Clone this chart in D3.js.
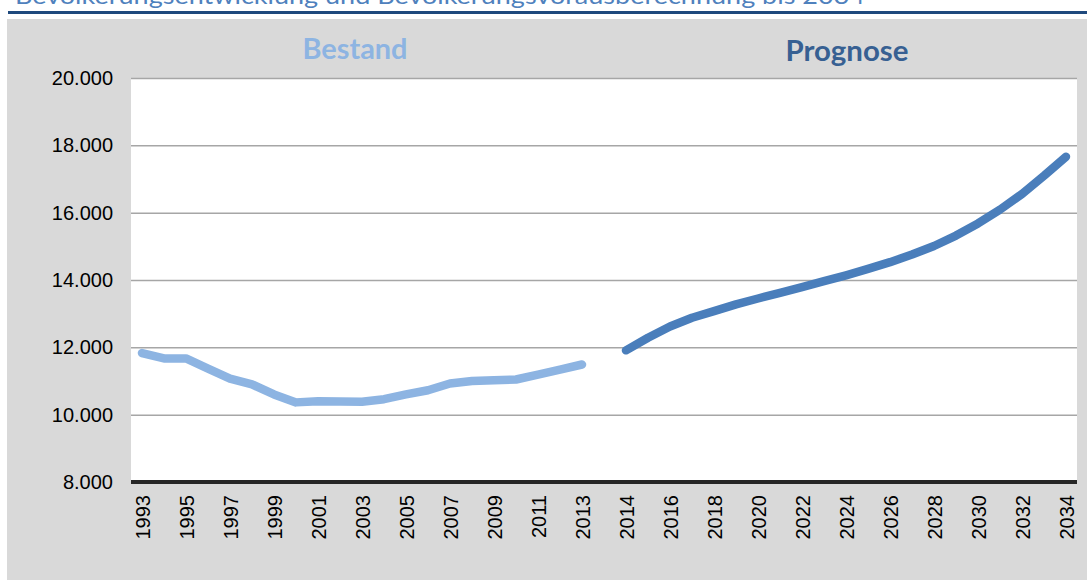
<!DOCTYPE html>
<html>
    <head>
        <meta charset="utf-8">
        <title>Bevölkerungsentwicklung</title>
        <style>
            html {font-family: "Liberation Sans", Arial, sans-serif;}
            body {margin: 0px; padding: 0px; overflow: hidden; background: #fff;}
            svg {display: block;}
        </style>
    </head>
    <body>
        <div id="chart"></div>
        <script src="https://cdn.jsdelivr.net/npm/d3@7"></script>
        <script type="text/javascript">
            // Bestand 1993-2013, Prognose 2014-2034 (one empty slot in between on the axis)
            var yearsBestand = d3.range(1993, 2014);
            var yearsPrognose = d3.range(2014, 2035);

            var bestand = [11830, 11670, 11670, 11370, 11070, 10900, 10600, 10365, 10400, 10390,
                           10385, 10460, 10600, 10725, 10925, 11000, 11020, 11045, 11190, 11340, 11490];
            var prognose = [11910, 12285, 12620, 12880, 13075, 13275, 13450, 13620, 13790, 13965,
                            14140, 14330, 14530, 14755, 15010, 15320, 15680, 16090, 16555, 17095, 17660];

            var yTicks = [8000, 10000, 12000, 14000, 16000, 18000, 20000];
            var xLabels = ["1993", "1995", "1997", "1999", "2001", "2003", "2005", "2007", "2009", "2011", "2013",
                           "2014", "2016", "2018", "2020", "2022", "2024", "2026", "2028", "2030", "2032", "2034"];

            var title = "Bevölkerungsentwicklung und Bevölkerungsvorausberechnung bis 2034";

            var width = 1087, height = 583;
            var plot = {left: 131, right: 1077, top: 78, bottom: 482};

            // category slots: all Bestand years, a blank gap, then all Prognose years
            var slots = yearsBestand.map(String).concat(["gap"]).concat(yearsPrognose.map(String));

            var x = d3.scalePoint()
                .domain(slots)
                .range([plot.left, plot.right])
                .padding(0.5);

            var y = d3.scaleLinear()
                .domain([8000, 20000])
                .range([plot.bottom, plot.top]);

            var svg = d3.select("#chart").append("svg")
                .attr("width", width)
                .attr("height", height);

            // title, mostly cut off at the top like the source
            svg.append("text")
                .attr("x", 15)
                .attr("y", 4)
                .attr("textLength", 850)
                .attr("lengthAdjust", "spacingAndGlyphs")
                .style("font-family", "Lato, 'Open Sans', sans-serif")
                .style("font-size", "24px")
                .style("fill", "#4F81BD")
                .text(title);

            svg.append("rect")
                .attr("x", 8).attr("y", 11)
                .attr("width", width - 8).attr("height", 3)
                .style("fill", "#1F497D");

            // grey chart panel
            svg.append("rect")
                .attr("x", 7).attr("y", 19)
                .attr("width", width - 7).attr("height", 561)
                .style("fill", "#D9D9D9");

            svg.append("rect")
                .attr("x", plot.left).attr("y", plot.top)
                .attr("width", plot.right - plot.left).attr("height", plot.bottom - plot.top)
                .style("fill", "#fff");

            // gridlines + y labels
            var yAxis = d3.axisLeft(y)
                .tickValues(yTicks)
                .tickSize(-(plot.right - plot.left))
                .tickPadding(18)
                .tickFormat(function(d) { return d3.format(",")(d).replace(",", "."); });

            var gy = svg.append("g")
                .attr("transform", "translate(" + plot.left + ",0)")
                .call(yAxis);
            gy.select(".domain").remove();
            gy.selectAll(".tick line").style("stroke", "#A6A6A6").style("stroke-width", 1.5);
            gy.selectAll(".tick text")
                .style("font-family", "'Liberation Sans', Arial, sans-serif")
                .style("font-size", "20px")
                .style("fill", "#000");

            // x axis: label every other slot, rotated
            var xAxis = d3.axisBottom(x)
                .tickValues(xLabels)
                .tickSize(0)
                .tickPadding(0);

            var gx = svg.append("g")
                .attr("transform", "translate(0," + plot.bottom + ")")
                .call(xAxis);
            gx.select(".domain").remove();
            gx.selectAll(".tick text")
                .attr("transform", "rotate(-90)")
                .attr("x", -13)
                .attr("y", 0)
                .attr("dy", "0.36em")
                .style("text-anchor", "end")
                .style("font-family", "'Liberation Sans', Arial, sans-serif")
                .style("font-size", "20px")
                .style("fill", "#000");

            // thick base line at 8.000
            svg.append("line")
                .attr("x1", plot.left).attr("x2", plot.right)
                .attr("y1", y(8000)).attr("y2", y(8000))
                .style("stroke", "#262626")
                .style("stroke-width", 4);

            var line = d3.line()
                .x(function(d) { return x(String(d.year)); })
                .y(function(d) { return y(d.value); });

            var bestandData = yearsBestand.map(function(yr, i) { return {year: yr, value: bestand[i]}; });
            var prognoseData = yearsPrognose.map(function(yr, i) { return {year: yr, value: prognose[i]}; });

            svg.append("path")
                .datum(bestandData)
                .attr("d", line)
                .style("fill", "none")
                .style("stroke", "#8DB4E2")
                .style("stroke-width", 8.5)
                .style("stroke-linecap", "round")
                .style("stroke-linejoin", "round");

            svg.append("path")
                .datum(prognoseData)
                .attr("d", line)
                .style("fill", "none")
                .style("stroke", "#4A7EBB")
                .style("stroke-width", 8.5)
                .style("stroke-linecap", "round")
                .style("stroke-linejoin", "round");

            // section headings
            svg.append("text")
                .attr("x", 355).attr("y", 59)
                .attr("text-anchor", "middle")
                .attr("textLength", 105)
                .attr("lengthAdjust", "spacingAndGlyphs")
                .style("font-family", "Lato, 'Open Sans', sans-serif")
                .style("font-weight", "bold")
                .style("font-size", "29px")
                .style("fill", "#8DB4E2")
                .text("Bestand");

            svg.append("text")
                .attr("x", 847).attr("y", 61)
                .attr("text-anchor", "middle")
                .attr("textLength", 123)
                .attr("lengthAdjust", "spacingAndGlyphs")
                .style("font-family", "Lato, 'Open Sans', sans-serif")
                .style("font-weight", "bold")
                .style("font-size", "29px")
                .style("fill", "#376092")
                .text("Prognose");
        </script>
    </body>
</html>
